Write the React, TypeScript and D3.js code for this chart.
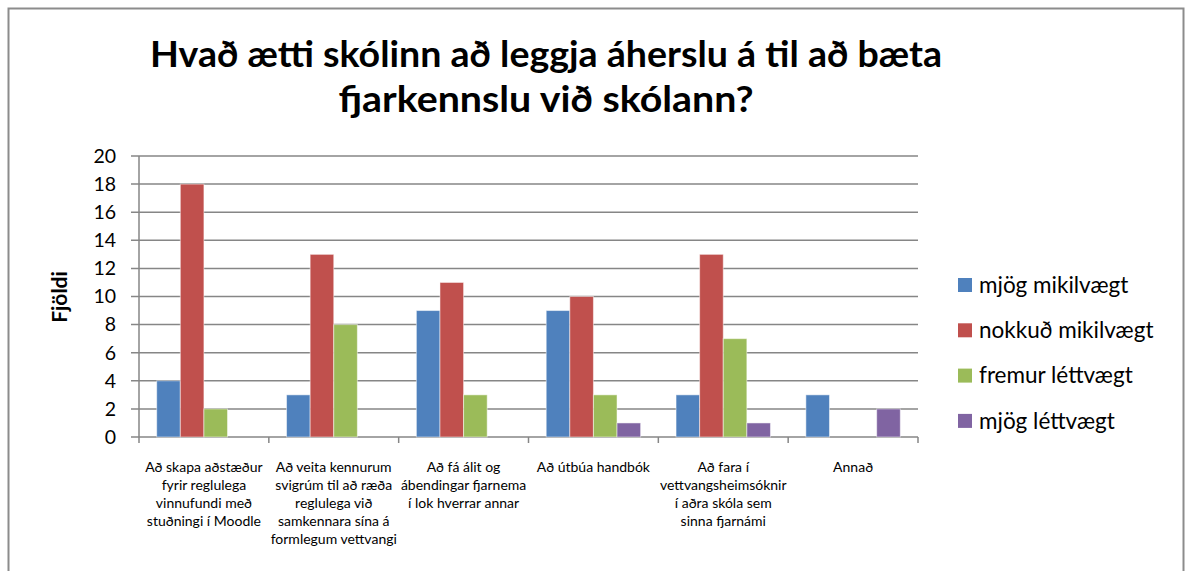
import React from "react";
import * as d3 from "d3";

const categories: string[][] = [
  ["Að skapa aðstæður", "fyrir reglulega", "vinnufundi með", "stuðningi í Moodle"],
  ["Að veita kennurum", "svigrúm til að ræða", "reglulega við", "samkennara sína á", "formlegum vettvangi"],
  ["Að fá álit og", "ábendingar fjarnema", "í lok hverrar annar"],
  ["Að útbúa handbók"],
  ["Að fara í", "vettvangsheimsóknir", "í aðra skóla sem", "sinna fjarnámi"],
  ["Annað"],
];
const seriesNames = ["mjög mikilvægt", "nokkuð mikilvægt", "fremur léttvægt", "mjög léttvægt"];
const seriesColors = ["#4F81BD", "#C0504D", "#9BBB59", "#8064A2"];
const mjogMikilvaegt = [4, 3, 9, 9, 3, 3];
const nokkudMikilvaegt = [18, 13, 11, 10, 13, 0];
const fremurLettvaegt = [2, 8, 3, 3, 7, 0];
const mjogLettvaegt = [0, 0, 0, 1, 1, 2];
const yTicks = [0, 2, 4, 6, 8, 10, 12, 14, 16, 18, 20];
const titleLines = ["Hvað ætti skólinn að leggja áherslu á til að bæta", "fjarkennslu við skólann?"];
const yLabel = "Fjöldi";

const W = 1187;
const H = 571;
const plot = { left: 139, right: 918, top: 156, bottom: 437 };
const FONT = "Lato, 'Open Sans', sans-serif";

export default function App() {
  const series = [mjogMikilvaegt, nokkudMikilvaegt, fremurLettvaegt, mjogLettvaegt];
  const idx = categories.map((_, i) => String(i));
  const x0 = d3.scaleBand<string>().domain(idx).range([plot.left, plot.right]).paddingInner(0).paddingOuter(0);
  const band = x0.bandwidth();
  const barW = band / (4 + 1.5);
  const y = d3.scaleLinear().domain([0, 20]).range([plot.bottom, plot.top]);

  return (
    <svg width={W} height={H} style={{ position: "absolute", left: 0, top: 0, background: "#fff" }} fontFamily={FONT}>
      <rect x={8.5} y={8.5} width={1175} height={H + 20} fill="#fff" stroke="#8c8c8c" strokeWidth={2} />
      {titleLines.map((t, i) => (
        <text key={i} x={546} y={67 + i * 45} textAnchor="middle" fontSize={37} fontWeight={700} fill="#000"
          textLength={i === 0 ? 792 : 415} lengthAdjust="spacingAndGlyphs">{t}</text>
      ))}
      {/* gridlines */}
      {yTicks.map((t) => (
        <g key={t}>
          <line x1={plot.left - 8} x2={plot.right} y1={y(t)} y2={y(t)} stroke="#868686" strokeWidth={1.5} />
          <text x={116} y={y(t)} dy="0.35em" textAnchor="end" fontSize={19.5} fill="#000">{t}</text>
        </g>
      ))}
      <line x1={plot.left} x2={plot.left} y1={plot.top} y2={plot.bottom} stroke="#868686" strokeWidth={1.5} />
      {d3.range(categories.length + 1).map((i) => {
        const xx = plot.left + i * band;
        return <line key={i} x1={xx} x2={xx} y1={plot.bottom} y2={plot.bottom + 6} stroke="#868686" strokeWidth={1.5} />;
      })}
      {/* bars */}
      {series.map((vals, s) => (
        <g key={s}>
          {vals.map((v, c) => {
            if (v === 0) return null;
            const bx = (x0(String(c)) as number) + 0.75 * barW + s * barW;
            return (
              <rect key={c} x={bx} y={y(v)} width={barW} height={y(0) - y(v)} fill={seriesColors[s]}
                stroke="#ffffff" strokeOpacity={0.5} strokeWidth={1} />
            );
          })}
        </g>
      ))}
      {/* category labels */}
      {categories.map((lines, c) => (
        <text key={c} textAnchor="middle" fontSize={14} fill="#000">
          {lines.map((ln, j) => (
            <tspan key={j} x={(x0(String(c)) as number) + band / 2} y={472 + j * 18}>{ln}</tspan>
          ))}
        </text>
      ))}
      {/* y label */}
      <text transform="translate(67,297) rotate(-90)" textAnchor="middle" fontSize={21} fontWeight={700} fill="#000">{yLabel}</text>
      {/* legend */}
      {seriesNames.map((n, i) => (
        <g key={i} transform={`translate(958,${285 + i * 45.3})`}>
          <rect x={0} y={-7} width={14} height={14} fill={seriesColors[i]} />
          <text x={21} y={0} dy="0.35em" fontSize={22.5} fill="#000">{n}</text>
        </g>
      ))}
    </svg>
  );
}
